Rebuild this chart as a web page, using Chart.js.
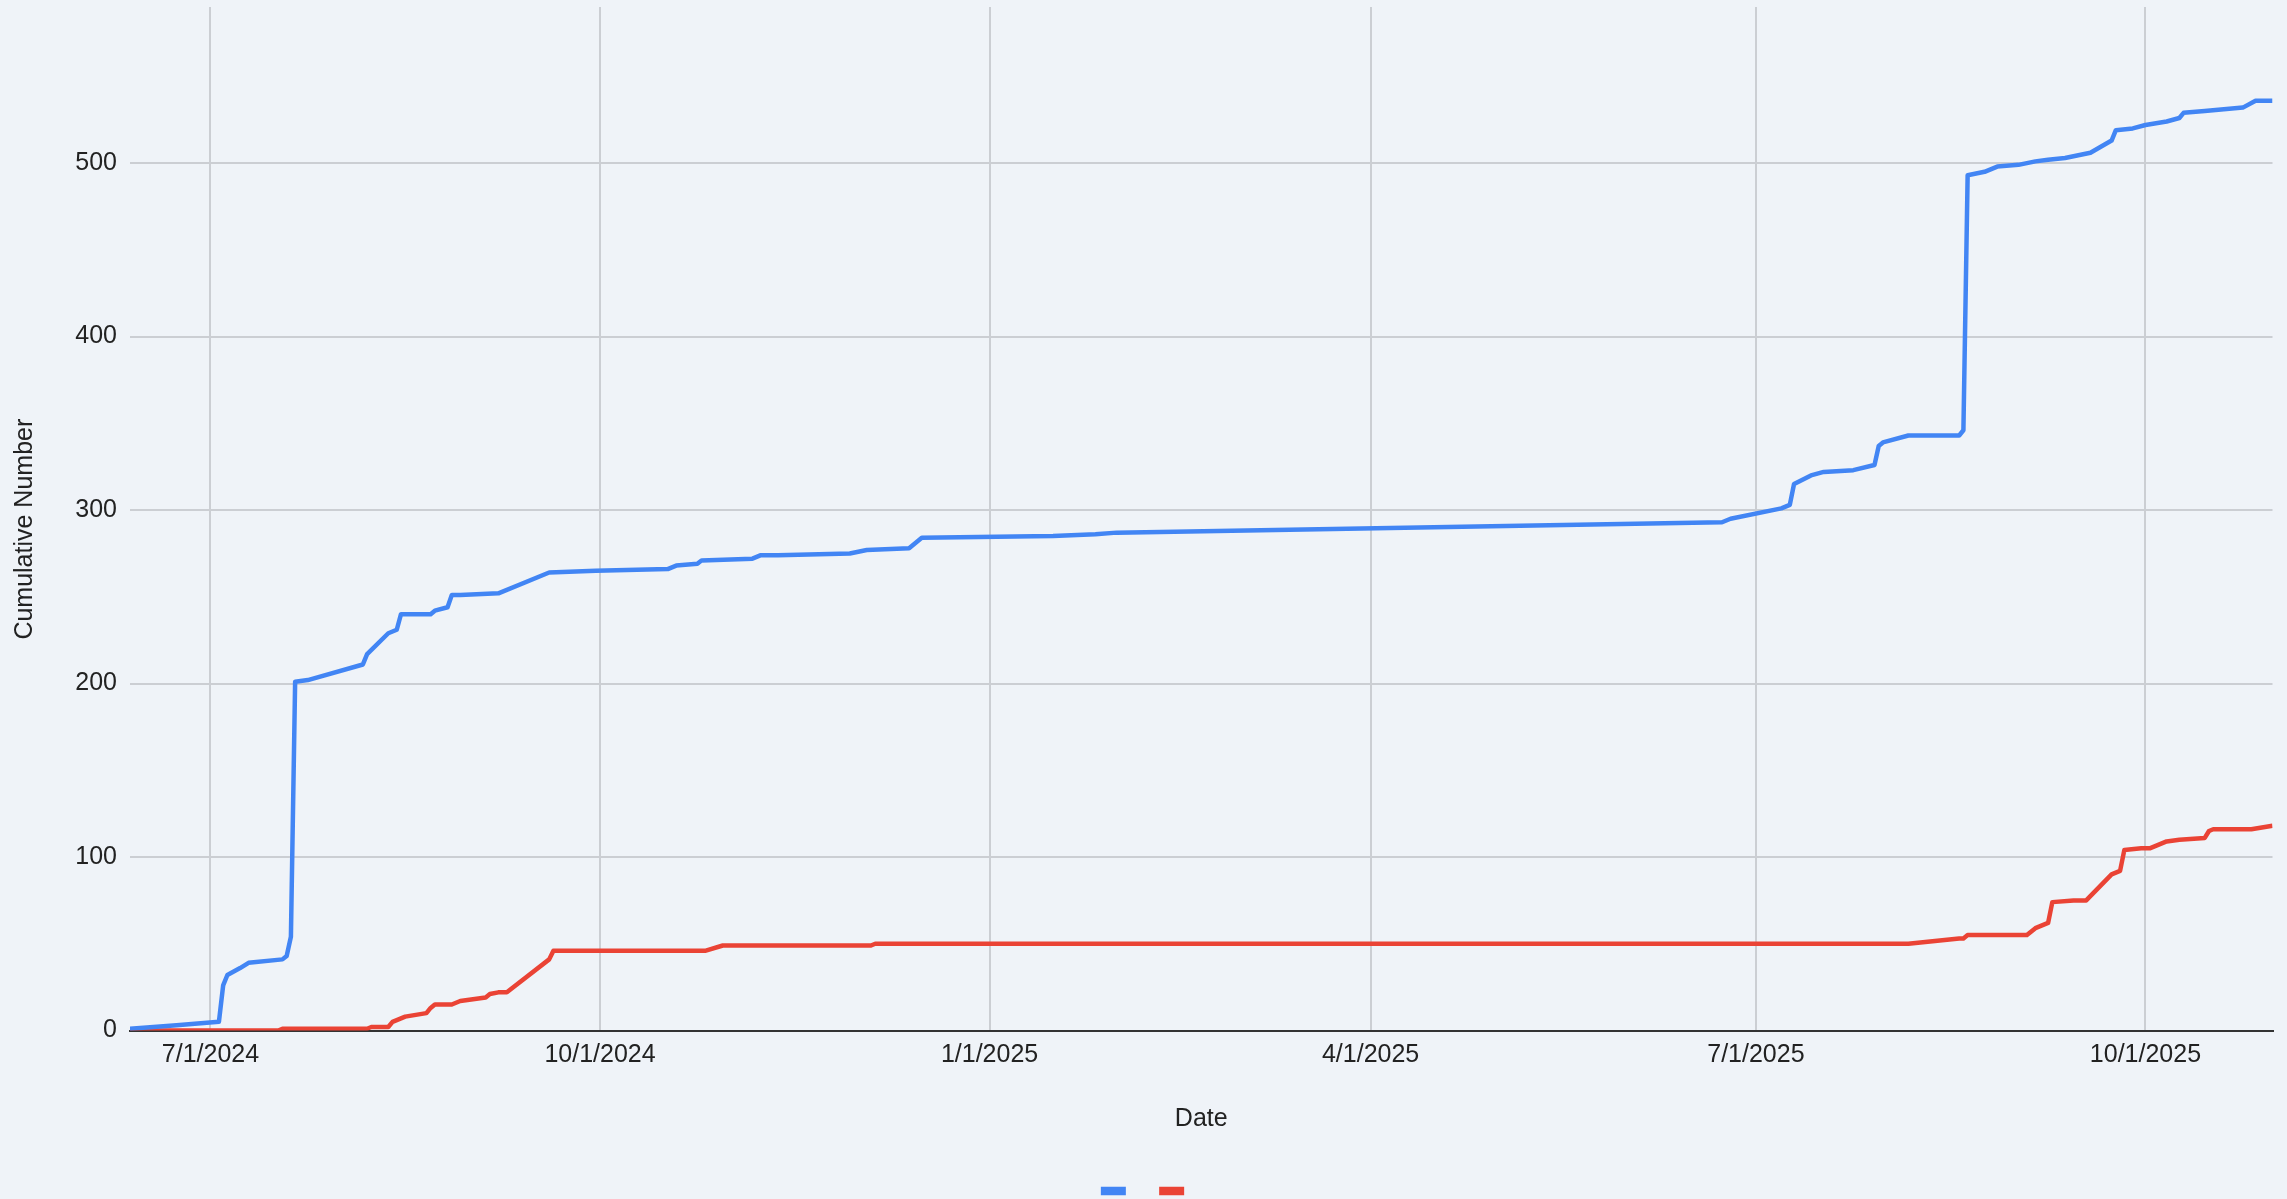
<!DOCTYPE html>
<html>
<head>
<meta charset="utf-8">
<title>Cumulative Number</title>
<script src="https://cdn.jsdelivr.net/npm/chart.js@4.4.1/dist/chart.umd.min.js"></script>
<style>
  html, body { margin: 0; padding: 0; background: #eff3f8; overflow: hidden; }
  .chart-box { width: 2287px; height: 1199px; }
</style>
</head>
<body>
<div class="chart-box"><canvas id="myChart"></canvas></div>
<script>
// data
const blueDates = [
  "2024-06-12", "2024-06-23", "2024-07-03", "2024-07-04", "2024-07-05", "2024-07-08",
  "2024-07-10", "2024-07-18", "2024-07-19", "2024-07-20", "2024-07-21", "2024-07-24",
  "2024-08-06", "2024-08-07", "2024-08-12", "2024-08-14", "2024-08-15", "2024-08-22",
  "2024-08-23", "2024-08-26", "2024-08-27", "2024-08-29", "2024-09-07", "2024-09-19",
  "2024-09-30", "2024-10-17", "2024-10-19", "2024-10-24", "2024-10-25", "2024-11-06",
  "2024-11-08", "2024-11-12", "2024-11-29", "2024-12-03", "2024-12-13", "2024-12-16",
  "2025-01-16", "2025-01-26", "2025-01-31", "2025-06-23", "2025-06-25", "2025-07-07",
  "2025-07-09", "2025-07-10", "2025-07-14", "2025-07-17", "2025-07-24", "2025-07-29",
  "2025-07-30", "2025-07-31", "2025-08-06", "2025-08-18", "2025-08-19", "2025-08-20",
  "2025-08-24", "2025-08-27", "2025-09-01", "2025-09-05", "2025-09-08", "2025-09-12",
  "2025-09-14", "2025-09-18", "2025-09-23", "2025-09-24", "2025-09-28", "2025-10-01",
  "2025-10-06", "2025-10-09", "2025-10-10", "2025-10-15", "2025-10-24", "2025-10-27",
  "2025-10-31",
];
const blueValues = [
  1, 3, 5, 26, 32, 36,
  39, 41, 43, 54, 201, 202,
  211, 217, 229, 231, 240, 240,
  242, 244, 251, 251, 252, 264,
  265, 266, 268, 269, 271, 272,
  274, 274, 275, 277, 278, 284,
  285, 286, 287, 293, 295, 301,
  303, 315, 320, 322, 323, 326,
  337, 339, 343, 343, 346, 493,
  495, 498, 499, 501, 502, 503,
  504, 506, 513, 519, 520, 522,
  524, 526, 529, 530, 532, 536,
  536,
];

const redDates = [
  "2024-06-12", "2024-07-17", "2024-07-18", "2024-08-07", "2024-08-08", "2024-08-12",
  "2024-08-13", "2024-08-14", "2024-08-16", "2024-08-21", "2024-08-22", "2024-08-23",
  "2024-08-27", "2024-08-29", "2024-09-04", "2024-09-05", "2024-09-07", "2024-09-09",
  "2024-09-19", "2024-09-20", "2024-10-01", "2024-10-26", "2024-10-30", "2024-12-04",
  "2024-12-05", "2025-08-06", "2025-08-18", "2025-08-19", "2025-08-20", "2025-09-03",
  "2025-09-05", "2025-09-08", "2025-09-09", "2025-09-14", "2025-09-17", "2025-09-23",
  "2025-09-25", "2025-09-26", "2025-09-30", "2025-10-02", "2025-10-06", "2025-10-09",
  "2025-10-15", "2025-10-16", "2025-10-17", "2025-10-26", "2025-10-31",
];
const redValues = [
  0, 0, 1, 1, 2, 2,
  5, 6, 8, 10, 13, 15,
  15, 17, 19, 21, 22, 22,
  41, 46, 46, 46, 49, 49,
  50, 50, 53, 53, 55, 55,
  59, 62, 74, 75, 75, 90,
  92, 104, 105, 105, 109, 110,
  111, 115, 116, 116, 118,
];

const xTickLabels = ["7/1/2024", "10/1/2024", "1/1/2025", "4/1/2025", "7/1/2025", "10/1/2025"];
const yTickValues = [0, 100, 200, 300, 400, 500];

// helpers for dates (no date adapter, so a linear axis in ms)
const toTime = (s) => Date.parse(s + "T00:00:00Z");
const labelToTime = (s) => {
  const [m, d, y] = s.split("/").map(Number);
  return Date.UTC(y, m - 1, d);
};
const toPoints = (dates, values) => dates.map((d, i) => ({ x: toTime(d), y: values[i] }));

const font = { family: "'Liberation Sans', Arial, Helvetica, sans-serif", size: 25 };
const textColor = "#222";
const gridColor = "#cbced3";

const ctx = document.getElementById("myChart");

new Chart(ctx, {
  type: "line",
  data: {
    datasets: [
      {
        label: "",
        data: toPoints(blueDates, blueValues),
        borderColor: "#4285f4",
        backgroundColor: "#4285f4",
        borderWidth: 4.5,
        pointRadius: 0,
        tension: 0,
        borderJoinStyle: "round",
      },
      {
        label: "",
        data: toPoints(redDates, redValues),
        borderColor: "#ea4335",
        backgroundColor: "#ea4335",
        borderWidth: 4.5,
        pointRadius: 0,
        tension: 0,
        borderJoinStyle: "round",
      },
    ],
  },
  options: {
    responsive: true,
    maintainAspectRatio: false,
    animation: false,
    layout: { padding: { top: 7, left: 0, right: 0, bottom: -6.2 } },
    plugins: {
      tooltip: { enabled: false },
      legend: {
        position: "bottom",
        labels: {
          boxWidth: 25,
          boxHeight: 8.5,
          padding: 31.3,
          font: { size: 4 },
          generateLabels: (chart) =>
            Chart.defaults.plugins.legend.labels.generateLabels(chart).map((item) => ({
              ...item,
              lineWidth: 0,
              text: "",
            })),
        },
      },
    },
    scales: {
      x: {
        type: "linear",
        min: toTime(blueDates[0]),
        max: toTime(blueDates[blueDates.length - 1]),
        afterBuildTicks: (scale) => {
          scale.ticks = xTickLabels.map((t) => ({ value: labelToTime(t) }));
        },
        ticks: {
          callback: (value, index) => xTickLabels[index],
          font: font,
          color: textColor,
          padding: 10,
          maxRotation: 0,
          autoSkip: false,
        },
        grid: { color: gridColor, lineWidth: 2, drawTicks: false },
        border: { display: true, color: "#333", width: 2 },
        title: {
          display: true,
          text: "Date",
          font: font,
          color: textColor,
          padding: { top: 0, bottom: 21.6 },
        },
        afterFit: (scale) => {
          scale.height = 124.9;
          scale.paddingLeft = 0;
          scale.paddingRight = 0;
        },
      },
      y: {
        min: 0,
        max: 590,
        afterBuildTicks: (scale) => {
          scale.ticks = yTickValues.map((v) => ({ value: v }));
        },
        ticks: { font: font, color: textColor, padding: 13 },
        grid: {
          color: (c) => (c.tick && c.tick.value === 0 ? "rgba(0,0,0,0)" : gridColor),
          lineWidth: 2,
          drawTicks: false,
        },
        border: { display: false },
        title: {
          display: true,
          // trailing spaces nudge the rotated title a little lower, like the original
          text: "Cumulative Number   ",
          font: font,
          color: textColor,
          padding: { top: 10, bottom: 0 },
        },
        afterFit: (scale) => {
          scale.width = 130;
          scale.paddingTop = 0;
          scale.paddingBottom = 0;
        },
      },
      // empty axis on the right, only keeps the plot off the edge
      spacer: {
        axis: "y",
        position: "right",
        grid: { display: false },
        border: { display: false },
        ticks: { display: false },
        afterFit: (scale) => {
          scale.width = 14.5;
          scale.paddingTop = 0;
          scale.paddingBottom = 0;
        },
      },
    },
  },
});
</script>
</body>
</html>
